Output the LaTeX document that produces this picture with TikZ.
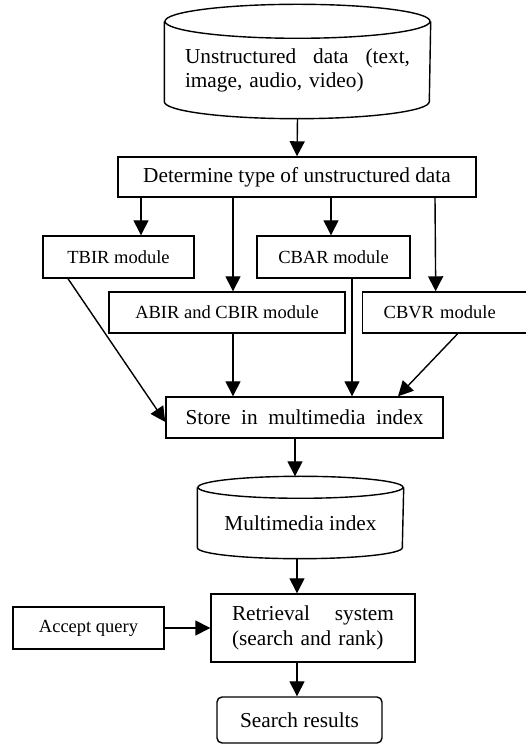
\documentclass[tikz,border=0pt]{standalone}
\usepackage{fontspec}
\setmainfont{Liberation Serif}
\usetikzlibrary{arrows.meta}
\tikzset{>={Triangle[length=15pt,width=15pt]}}

\begin{document}
\begin{tikzpicture}[x=1pt, y=1pt, line width=1.4pt,
    txt/.style={font=\fontsize{21.3pt}{24pt}\selectfont},
    modtxt/.style={font=\fontsize{18.5pt}{22pt}\selectfont},
    box/.style={draw, rectangle, inner sep=0pt},
    cyl/.style={rectangle, inner sep=0pt}]
    \clip (0,0) rectangle (526,744);
    \node[cyl, txt, minimum width=265pt, minimum height=96pt, text width=225pt, align=left] (src) at (297.5,674)
        {Unstructured\hfill data\hfill (text,\\image, audio, video)};
    \draw (src.north west) -- ([yshift=17pt]src.south west)
        arc[start angle=180, end angle=360, x radius=132.5pt, y radius=17pt] -- (src.north east);
    \draw (src.north) ellipse[x radius=132.5pt, y radius=17pt];
    \node[box, txt, minimum width=358pt, minimum height=40pt] (det) at (297,567) {Determine type of unstructured data};
    \node[box, modtxt, minimum width=151pt, minimum height=42pt] (tbir) at (118.5,487) {TBIR module};
    \node[box, modtxt, minimum width=153pt, minimum height=42pt] (cbar) at (333.5,487) {CBAR module};
    \node[box, modtxt, minimum width=236pt, minimum height=41pt] (abir) at (227,431.5) {ABIR and CBIR module};
    \node[box, modtxt, anchor=west, minimum height=41pt, text width=130pt, inner xsep=21pt, align=left] (cbvr) at (362,431.5) {CBVR module};
    \node[box, txt, minimum width=277pt, minimum height=41pt] (store) at (304.5,326.5) {Store~~in~~multimedia~~index};
    \node[cyl, txt, minimum width=205pt, minimum height=70pt] (mm) at (300.5,221) {Multimedia index};
    \draw (mm.north west) -- ([yshift=11pt]mm.south west)
        arc[start angle=180, end angle=360, x radius=102.5pt, y radius=11pt] -- (mm.north east);
    \draw (mm.north) ellipse[x radius=102.5pt, y radius=11pt];
    \node[box, minimum height=68pt, text width=162pt, inner xsep=21pt, align=left, font=\fontsize{21.3pt}{25pt}\selectfont] (ret) at (313,116)
        {Retrieval\hfill system\\(search and rank)};
    \node[box, modtxt, minimum width=151pt, minimum height=42pt] (acc) at (88.5,116) {Accept query};
    \node[box, txt, rounded corners=5pt, minimum width=165pt, minimum height=46pt] (res) at (299.5,24) {Search results};
  % arrows
    \draw[->] (src.south) -- (det.north);
    \draw[->] ([xshift=-156pt]det.south) -- ([xshift=22.5pt]tbir.north);
    \draw[->] ([xshift=-64pt]det.south) -- ([xshift=6pt]abir.north);
    \draw[->] ([xshift=34pt]det.south) -- ([xshift=-2.5pt]cbar.north);
    \draw[->] ([xshift=138pt]det.south) -- ([xshift=-13pt]cbvr.north);
    \draw[->] ([xshift=-50.5pt]tbir.south) -- ([yshift=-4.5pt]store.west);
    \draw[->] ([xshift=6pt]abir.south) -- ([xshift=-71.5pt]store.north);
    \draw[->] ([xshift=18.5pt]cbar.south) -- ([xshift=47.5pt]store.north);
    \draw[->] ([xshift=9pt]cbvr.south) -- ([xshift=93.5pt]store.north);
    \draw[->] ([xshift=-9.5pt]store.south) -- ([xshift=-5.5pt, yshift=11pt]mm.north);
    \draw[->] ([xshift=-3.5pt]mm.south) -- ([xshift=-16pt]ret.north);
    \draw[->] ([xshift=-16pt]ret.south) -- ([xshift=-2.5pt]res.north);
    \draw[->] (acc) -- (ret);
\end{tikzpicture}
\end{document}
